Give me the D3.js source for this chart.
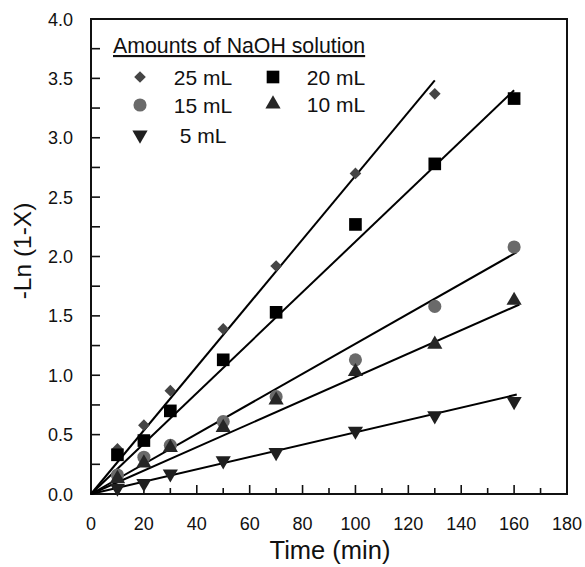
<!DOCTYPE html>
<html>
<head>
<meta charset="utf-8">
<script src="https://cdn.jsdelivr.net/npm/d3@7"></script>
<style>
  html, body { margin: 0; padding: 0; background: #fff; }
  svg { display: block; }
  text { font-family: "Liberation Sans", Arial, Helvetica, sans-serif; fill: #111; }
</style>
</head>
<body>
<svg id="chart" width="585" height="567"></svg>
<script>
// ---- data ----
const times = [10, 20, 30, 50, 70, 100, 130, 160];
const times25 = [10, 20, 30, 50, 70, 100, 130];
const v25 = [0.38, 0.58, 0.87, 1.39, 1.92, 2.70, 3.37];
const v20 = [0.33, 0.45, 0.70, 1.13, 1.53, 2.27, 2.78, 3.33];
const v15 = [0.16, 0.31, 0.41, 0.61, 0.82, 1.13, 1.58, 2.08];
const v10 = [0.13, 0.26, 0.39, 0.56, 0.79, 1.03, 1.26, 1.63];
const v5  = [0.05, 0.09, 0.17, 0.28, 0.35, 0.53, 0.66, 0.78];
// fitted straight lines through origin: slope and end time
const seriesNames = ["25 mL", "20 mL", "15 mL", "10 mL", "5 mL"];
const fitSlopes = [0.0268, 0.02125, 0.01265, 0.00985, 0.0052];
const fitEnds = [130, 160, 161, 162, 161];
const xTicks = [0, 20, 40, 60, 80, 100, 120, 140, 160, 180];
const yTicks = [0.0, 0.5, 1.0, 1.5, 2.0, 2.5, 3.0, 3.5, 4.0];
const legendTitle = "Amounts of NaOH solution";

// ---- layout ----
const L = 91, R = 567, T = 19, B = 494;
const svg = d3.select("#chart");
const x = d3.scaleLinear().domain([0, 180]).range([L, R]);
const y = d3.scaleLinear().domain([0, 4]).range([B, T]);

// marker shapes
const sym = {
  diamond: d3.symbol().type(d3.symbolSquare).size(68)(),
  square: d3.symbol().type(d3.symbolSquare).size(160)(),
  circle: d3.symbol().type(d3.symbolCircle).size(135)(),
  triangle: d3.symbol().type(d3.symbolTriangle).size(100)()
};
const styles = [
  { path: sym.diamond, rot: 45, fill: "#454545" },
  { path: sym.square, rot: 0, fill: "#000000" },
  { path: sym.circle, rot: 0, fill: "#6a6a6a" },
  { path: sym.triangle, rot: 0, fill: "#262626" },
  { path: sym.triangle, rot: 180, fill: "#1f1f1f" }
];
const seriesData = [
  times25.map((t, i) => [t, v25[i]]),
  times.map((t, i) => [t, v20[i]]),
  times.map((t, i) => [t, v15[i]]),
  times.map((t, i) => [t, v10[i]]),
  times.map((t, i) => [t, v5[i]])
];

// ---- axes box ----
svg.append("rect").attr("x", L).attr("y", T).attr("width", R - L).attr("height", B - T)
  .attr("fill", "none").attr("stroke", "#111").attr("stroke-width", 2);

// x ticks (inward)
const xMinor = d3.range(10, 180, 10);
svg.append("g").selectAll("line").data(xMinor).join("line")
  .attr("x1", d => x(d)).attr("x2", d => x(d))
  .attr("y1", B).attr("y2", d => B - (d % 20 === 0 ? 9 : 6))
  .attr("stroke", "#111").attr("stroke-width", 1.6);
svg.append("g").selectAll("text").data(xTicks).join("text")
  .attr("x", d => x(d)).attr("y", 530)
  .attr("text-anchor", "middle").attr("font-size", 18)
  .text(d => d);

// y ticks (inward)
const yMinor = d3.range(0.25, 4, 0.25);
svg.append("g").selectAll("line").data(yMinor).join("line")
  .attr("x1", L).attr("x2", L + 9)
  .attr("y1", d => y(d)).attr("y2", d => y(d))
  .attr("stroke", "#111").attr("stroke-width", 1.6);
svg.append("g").selectAll("text").data(yTicks).join("text")
  .attr("x", 73).attr("y", d => y(d) + 6.5)
  .attr("text-anchor", "end").attr("font-size", 18)
  .text(d => d.toFixed(1));

// axis titles
svg.append("text").attr("x", 330).attr("y", 559).attr("text-anchor", "middle")
  .attr("font-size", 25.5).text("Time (min)");
svg.append("text").attr("transform", "translate(31,251) rotate(-90)")
  .attr("text-anchor", "middle").attr("font-size", 24.5).text("-Ln (1-X)");

// fitted lines
const line = d3.line().x(d => x(d[0])).y(d => y(d[1]));
svg.append("g").selectAll("path").data(fitSlopes).join("path")
  .attr("d", (s, i) => line([[0, 0], [fitEnds[i], s * fitEnds[i]]]))
  .attr("fill", "none").attr("stroke", "#000").attr("stroke-width", 2);

// markers
seriesData.forEach((pts, i) => {
  const st = styles[i];
  svg.append("g").selectAll("path").data(pts).join("path")
    .attr("d", st.path)
    .attr("transform", d => `translate(${x(d[0])},${y(d[1])}) rotate(${st.rot})`)
    .attr("fill", st.fill);
});

// legend
svg.append("text").attr("x", 113).attr("y", 53).attr("font-size", 21.3)
  .attr("text-decoration", "underline").text(legendTitle);
const legPos = [
  { mx: 140, my: 77, tx: 203 },
  { mx: 273, my: 77, tx: 336 },
  { mx: 140, my: 105, tx: 203 },
  { mx: 273, my: 104, tx: 336 },
  { mx: 140, my: 135, tx: 203 }
];
seriesNames.forEach((name, i) => {
  const p = legPos[i], st = styles[i];
  svg.append("path").attr("d", st.path)
    .attr("transform", `translate(${p.mx},${p.my}) rotate(${st.rot})`)
    .attr("fill", st.fill);
  svg.append("text").attr("x", p.tx).attr("y", p.my + 7.5)
    .attr("text-anchor", "middle").attr("font-size", 21).text(name);
});
</script>
</body>
</html>
